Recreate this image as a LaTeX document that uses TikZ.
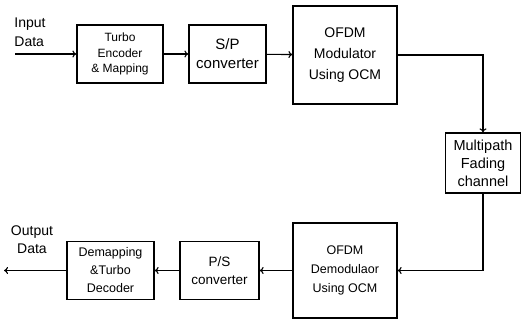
\documentclass[tikz,border=0pt]{standalone}
\usepackage{fontspec}
\setmainfont{Liberation Sans}
\usepackage{tikz}
\usetikzlibrary{arrows.meta,calc}

\begin{document}
\begin{tikzpicture}[
        %We set the units and define some styles
        x=1pt, y=1pt,
        block/.style={draw, line width=1.2pt, align=center, inner sep=1pt},
        link/.style={line width=1.1pt, -{To[length=4pt,width=7pt]}},
        every node/.style={color=black}
     ]
    \useasboundingbox (0,0) rectangle (521,320);
    % Transmitter chain
    \node[block, minimum width=86, minimum height=58, font=\fontsize{12}{15.5}\selectfont]
        (enc) at (120,266) {Turbo\\Encoder\\\& Mapping};
    \node[block, minimum width=77, minimum height=58, font=\fontsize{15}{19}\selectfont]
        (sp) at (227.5,266) {S/P\\converter};
    \node[block, minimum width=104, minimum height=98, font=\fontsize{14}{21}\selectfont]
        (mod) at (345,265) {OFDM\\Modulator\\Using OCM};
    % Channel
    \node[block, minimum width=75, minimum height=60, font=\fontsize{14.5}{18}\selectfont]
        (chan) at (483,157) {Multipath\\Fading\\channel};
    % Receiver chain
    \node[block, minimum width=104, minimum height=95, font=\fontsize{12.5}{19}\selectfont]
        (demod) at (345,49.5) {OFDM\\Demodulaor\\Using OCM};
    \node[block, minimum width=79, minimum height=58, font=\fontsize{13.5}{18}\selectfont]
        (ps) at (219.5,49.5) {P/S\\converter};
    \node[block, minimum width=87, minimum height=58, font=\fontsize{12.5}{18}\selectfont]
        (demap) at (110.5,49.5) {Demapping\\\&Turbo\\Decoder};
    % Input and output
    \node[align=left, font=\fontsize{14}{19}\selectfont, inner sep=0pt]
        (in) at (30,288) {Input\\Data};
    \node[align=center, font=\fontsize{14}{18}\selectfont, inner sep=0pt]
        (out) at (32,80) {Output\\Data};
    \coordinate (src) at (15,266);
    \coordinate (sink) at (4,49.5);
    % Connections
    \draw[link] (src) -- (enc);
    \draw[link] (enc) -- (sp);
    \draw[link] (sp) -- (mod);
    \draw[link] (mod.east) -| (chan.north);
    \draw[link] (chan.south) |- (demod.east);
    \draw[link] (demod) -- (ps);
    \draw[link] (ps) -- (demap);
    \draw[link] (demap) -- (sink);
\end{tikzpicture}
\end{document}
